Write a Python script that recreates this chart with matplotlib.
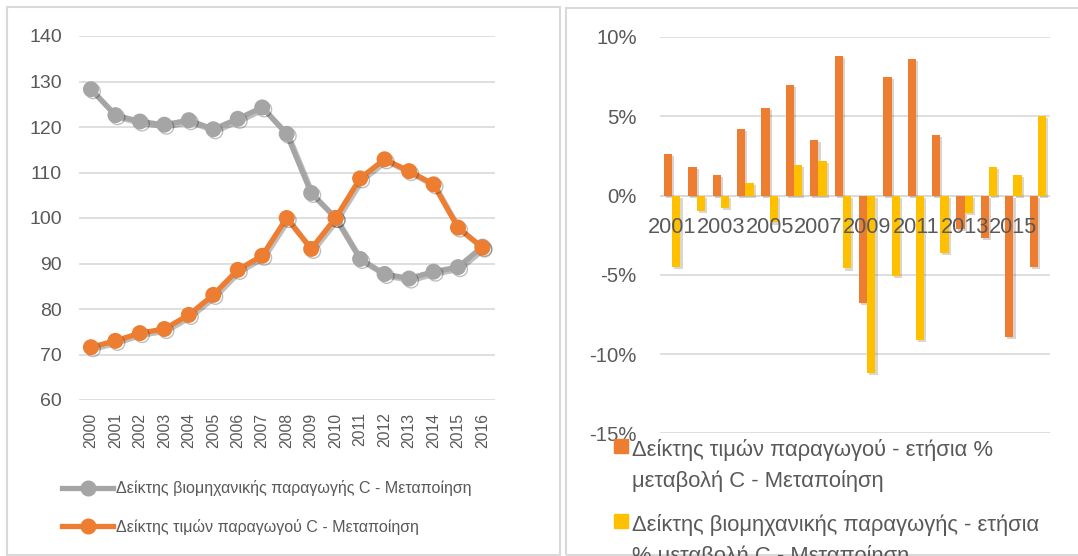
"""Greek manufacturing (C - Μεταποίηση): index levels and annual % changes, 2000-2016."""

import matplotlib
matplotlib.use("Agg")  # Non-interactive backend
import matplotlib.pyplot as plt
import matplotlib.patheffects as pe
import matplotlib.ticker as mticker
from matplotlib.lines import Line2D
from matplotlib.patches import Patch, Rectangle
import numpy as np

# Index levels (left panel)
YEARS = [2000, 2001, 2002, 2003, 2004, 2005, 2006, 2007, 2008,
         2009, 2010, 2011, 2012, 2013, 2014, 2015, 2016]
PRODUCTION_INDEX = [128.3, 122.6, 121.2, 120.5, 121.5, 119.5, 121.8, 124.3, 118.5,
                    105.5, 100.0, 91.0, 87.7, 86.7, 88.2, 89.2, 93.7]
PRICE_INDEX = [71.6, 73.0, 74.7, 75.6, 78.7, 83.1, 88.6, 91.7, 100.0,
               93.2, 100.0, 108.7, 112.9, 110.3, 107.4, 97.9, 93.5]

# Annual % changes (right panel)
CHANGE_YEARS = YEARS[1:]
PRICE_CHANGE = [2.6, 1.8, 1.3, 4.2, 5.5, 7.0, 3.5, 8.8,
                -6.8, 7.5, 8.6, 3.8, -2.1, -2.7, -8.9, -4.5]
PRODUCTION_CHANGE = [-4.5, -1.0, -0.8, 0.8, -1.7, 1.9, 2.2, -4.6,
                     -11.2, -5.1, -9.1, -3.6, -1.1, 1.8, 1.3, 5.0]

LABEL_PRODUCTION = "Δείκτης βιομηχανικής παραγωγής C - Μεταποίηση"
LABEL_PRICES = "Δείκτης τιμών παραγωγού C - Μεταποίηση"
LABEL_PRICE_CHANGE = "Δείκτης τιμών παραγωγού - ετήσια %\nμεταβολή C - Μεταποίηση"
LABEL_PRODUCTION_CHANGE = "Δείκτης βιομηχανικής παραγωγής - ετήσια\n% μεταβολή C - Μεταποίηση"

COLORS = {
    "gray": "#A5A5A5",
    "orange": "#ED7D31",
    "yellow": "#FFC000",
    "grid": "#D9D9D9",
    "text": "#595959",
    "border": "#D9D9D9",
}

W, H = 1078, 556


def px_box(x0, y0, x1, y1):
    """Pixel box (top-left origin) -> figure-fraction [left, bottom, width, height]."""
    return [x0 / W, 1 - y1 / H, (x1 - x0) / W, (y1 - y0) / H]


def _setup_style():
    plt.rcParams.update({
        "font.family": ["Liberation Sans", "DejaVu Sans"],
        "text.color": COLORS["text"],
        "xtick.color": COLORS["text"],
        "ytick.color": COLORS["text"],
        "figure.facecolor": "white",
        "axes.facecolor": "none",
    })


def _clean_axes(ax):
    for side in ("top", "right", "left", "bottom"):
        ax.spines[side].set_visible(False)
    ax.tick_params(length=0)
    ax.grid(axis="y", color=COLORS["grid"], linewidth=1.2)
    ax.set_axisbelow(True)


def levels_panel(fig):
    ax = fig.add_axes(px_box(78.7, 36, 494.7, 400))
    _clean_axes(ax)
    x = np.arange(len(YEARS))
    shadow = [pe.SimpleLineShadow(offset=(1.5, -1.5), alpha=0.25), pe.Normal()]
    ax.plot(x, PRODUCTION_INDEX, color=COLORS["gray"], linewidth=3.8,
            marker="o", markersize=10.5, path_effects=shadow)
    ax.plot(x, PRICE_INDEX, color=COLORS["orange"], linewidth=3.8,
            marker="o", markersize=10.5, path_effects=shadow)

    ax.set_ylim(60, 140)
    ax.set_yticks(range(60, 141, 10))
    ax.set_xlim(-0.5, len(YEARS) - 0.5)
    ax.set_xticks(x)
    ax.set_xticklabels([str(y) for y in YEARS], rotation=90)
    ax.tick_params(axis="y", labelsize=14, pad=12)
    ax.tick_params(axis="x", labelsize=11.3, pad=9)

    handles = [
        Line2D([], [], color=COLORS["gray"], linewidth=3.8, marker="o", markersize=10.5),
        Line2D([], [], color=COLORS["orange"], linewidth=3.8, marker="o", markersize=10.5),
    ]
    fig.legend(handles, [LABEL_PRODUCTION, LABEL_PRICES],
               loc="upper left", bbox_to_anchor=(62 / W, 1 - 480.5 / H),
               frameon=False, fontsize=11.5, borderpad=0, borderaxespad=0,
               handlelength=3.2, handletextpad=0.2, labelspacing=1.4)


def changes_panel(fig):
    ax = fig.add_axes(px_box(660, 37, 1050, 433.3))
    _clean_axes(ax)
    x = np.arange(len(CHANGE_YEARS))
    width = 0.34
    shadow = [pe.SimplePatchShadow(offset=(1.5, -1.5), alpha=0.2), pe.Normal()]
    ax.bar(x - width / 2, PRICE_CHANGE, width, color=COLORS["orange"],
           path_effects=shadow, zorder=3)
    ax.bar(x + width / 2, PRODUCTION_CHANGE, width, color=COLORS["yellow"],
           path_effects=shadow, zorder=3)
    ax.axhline(0, color=COLORS["grid"], linewidth=1.2, zorder=2)

    ax.set_ylim(-15, 10)
    ax.set_yticks(range(-15, 11, 5))
    ax.yaxis.set_major_formatter(mticker.FuncFormatter(lambda v, _: f"{v:.0f}%"))
    ax.set_xlim(-0.5, len(CHANGE_YEARS) - 0.5)
    ax.set_xticks([])
    ax.tick_params(axis="y", labelsize=14.6, pad=16.8)

    # Category labels sit next to the zero line, over the bars (every other year)
    for i in range(0, len(CHANGE_YEARS), 2):
        ax.text(x[i], -2.0, str(CHANGE_YEARS[i]), ha="center", va="center",
                fontsize=15.7, color=COLORS["text"], zorder=5)

    handles = [Patch(color=COLORS["orange"]), Patch(color=COLORS["yellow"])]
    leg = fig.legend(handles, [LABEL_PRICE_CHANGE, LABEL_PRODUCTION_CHANGE],
                     loc="upper left", bbox_to_anchor=(614 / W, 1 - 439 / H),
                     frameon=False, fontsize=15.8, borderpad=0, borderaxespad=0,
                     handlelength=0.62, handleheight=0.62, handletextpad=0.22,
                     labelspacing=0.98)
    for t in leg.get_texts():
        t.set_linespacing(1.55)
    # square marker level with the first line of each wrapped label
    for column in leg._legend_handle_box.get_children():
        for row in column.get_children():
            row.align = "top"


def main():
    _setup_style()
    fig = plt.figure(figsize=(W / 100, H / 100), dpi=100)

    # Panel borders
    for box in (px_box(7, 7, 560, 555), px_box(566, 8, 1090, 555)):
        fig.add_artist(Rectangle((box[0], box[1]), box[2], box[3], fill=False,
                                 edgecolor=COLORS["border"], linewidth=1.5,
                                 transform=fig.transFigure))

    levels_panel(fig)
    changes_panel(fig)
    fig.savefig("out.png", dpi=100)
    plt.close(fig)


if __name__ == "__main__":
    main()
